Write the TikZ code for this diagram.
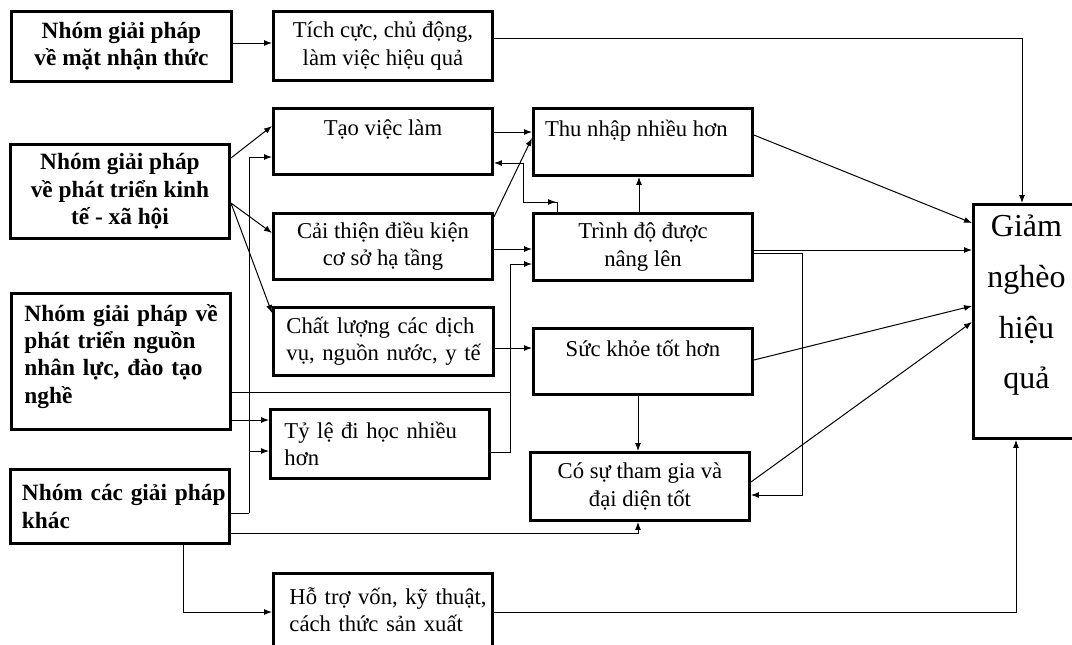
\documentclass[tikz,border=0pt]{standalone}
\usepackage{fontspec}
\setmainfont{Liberation Serif}
\usetikzlibrary{arrows.meta}
\begin{document}
\begin{tikzpicture}[x=0.75pt,y=-0.75pt,
  box/.style={draw, line width=2.2pt, inner sep=0pt, anchor=north west,
    font=\fontsize{17}{20.5}\selectfont, align=center},
  bbox/.style={box, font=\fontsize{17.5}{20.5}\selectfont\bfseries},
  sz/.style 2 args={minimum width=#1*0.75pt, minimum height=#2*0.75pt},
  conn/.style={line width=0.75pt},
  arr/.style={conn, -{Latex[length=6pt,width=4.5pt]}},
]
\useasboundingbox (0,0) rectangle (1072,644);
% column A
\node[bbox, sz={220}{70}] (a1) at (10,10) {Nhóm giải pháp\\về mặt nhận thức};
\node[bbox, sz={219}{94}] (a2) at (9,143) {Nhóm giải pháp\\về phát triển kinh\\tế - xã hội};
\node[bbox, sz={219}{136}, text width=193*0.75pt, align=left, text depth=73pt] (a3) at (10,292)
  {\makebox[\linewidth][s]{Nhóm giải pháp về}\\\makebox[\linewidth][s]{phát triển nguồn}\\\makebox[\linewidth][s]{nhân lực, đào tạo}\\nghề};
\node[bbox, sz={219}{74}, text width=196*0.75pt, align=left] (a4) at (9,468) {\makebox[\linewidth][s]{Nhóm các giải pháp}\\khác};
% column B
\node[box, sz={219}{69}] (b1) at (272,10) {Tích cực, chủ động,\\làm việc hiệu quả};
\node[box, sz={219}{66}] (b2) at (272,107) {Tạo việc làm\\\mbox{}};
\node[box, sz={219}{66}] (b3) at (272,212) {Cải thiện điều kiện\\cơ sở hạ tầng};
\node[box, sz={220}{68}, text width=194*0.75pt, align=left] (b4) at (272,306)
  {\makebox[\linewidth][s]{Chất lượng các dịch}\\\makebox[\linewidth][s]{vụ, nguồn nước, y tế}};
\node[box, sz={219}{69}, text width=191*0.75pt, align=left] (b5) at (269,408) {\mbox{Tỷ lệ đi học nhiều}\\hơn};
\node[box, sz={219}{73}, text width=187*0.75pt, align=left] (b6) at (272,572) {\mbox{Hỗ trợ vốn, kỹ thuật,}\\\mbox{cách thức sản xuất}};
% column C
\node[box, sz={219}{67}] (c1) at (532,107) {Thu nhập nhiều hơn\hspace*{10pt}\\\mbox{}};
\node[box, sz={219}{67}] (c2) at (532,212) {Trình độ được\\nâng lên};
\node[box, sz={219}{66}] (c3) at (532,327) {Sức khỏe tốt hơn\\\mbox{}};
\node[box, sz={219}{68}] (c4) at (529,451) {Có sự tham gia và\\đại diện tốt};
% goal
\node[box, sz={106}{234}, text depth=29pt, font=\fontsize{24}{38}\selectfont] (d) at (972,203)
  {Giảm\\nghèo\\hiệu\\quả};

% junction coordinates
\coordinate (j1) at (249,513);
\coordinate (j2) at (510,452);
\coordinate (k1) at (523,202);
\coordinate (k2) at (802,495);

% connectors
\draw[arr] (a1.east |- 0,43) -- (b1.west |- 0,43);
\draw[arr] (b1.east |- 0,38) -| (d.north -| 1022,0);
\draw[arr] (a2.east |- 0,158) -- (b2.west |- 0,126);
\draw[arr] (a2.east |- 0,203) -- (b3.west |- 0,233);
\draw[arr] (a2.east |- 0,203) -- (b4.west |- 0,313);
\draw[conn] (a4.east |- j1) -- (j1);
\draw[arr] (j1) |- (b2.west |- 0,157);
\draw[arr] (j1) |- (b5.west |- 0,451);
\draw[arr] (a3.east |- 0,420) -- (b5.west |- 0,420);
\draw[conn] (a3.east |- 0,392) -- (j2 |- 0,392);
\draw[arr] (b5.east |- j2) -- (j2) |- (c2.west |- 0,264);
\draw[arr] (b2.east |- 0,132) -- (c1.west |- 0,132);
\draw[arr] (b3.east |- 0,217) -- (c1.west |- 0,138);
\draw[arr] (b3.east |- 0,249) -- (c2.west |- 0,249);
\draw[arr] (c2.north -| 557,0) |- (k1) |- (b2.east |- 0,163);
\draw[arr] (k1) -- (k1 -| 556,0);
\draw[arr] (c2.north -| 639,0) -- (c1.south -| 639,0);
\draw[arr] (b4.east |- 0,348) -- (c3.west |- 0,348);
\draw[arr] (c3.south -| 638,0) -- (c4.north -| 638,0);
\draw[arr] (a4.east |- 0,533) -| (c4.south -| 638,0);
\draw[arr] (a4.south -| 183,0) |- (b6.west |- 0,612);
\draw[arr] (b6.east |- 0,612) -| (d.south -| 1016,0);
\draw[arr] (c1.east |- 0,135) -- (d.west |- 0,223);
\draw[arr] (c2.east |- 0,250) -- (d.west |- 0,250);
\draw[arr] (c2.east |- 0,253) -| (k2) -- (c4.east |- k2);
\draw[arr] (c3.east |- 0,360) -- (d.west |- 0,306);
\draw[arr] (c4.east |- 0,482) -- (d.west |- 0,322);
\end{tikzpicture}
\end{document}
